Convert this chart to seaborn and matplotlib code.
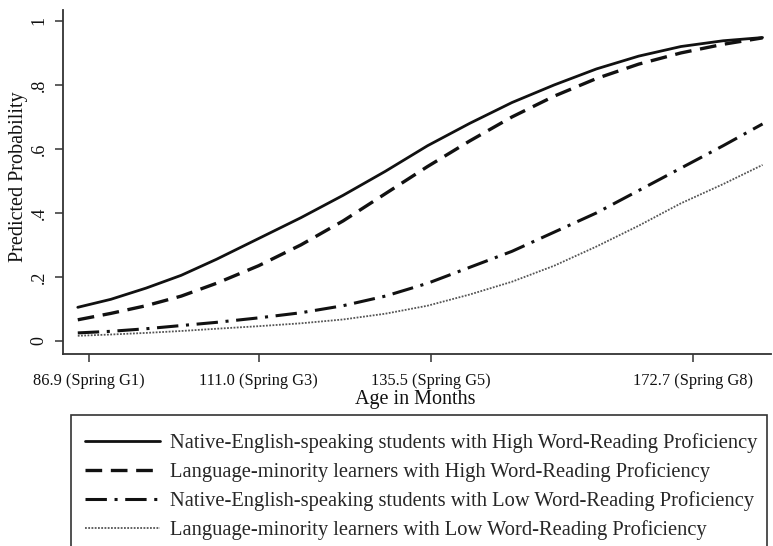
import matplotlib
matplotlib.use("Agg")
import matplotlib.pyplot as plt
from matplotlib.lines import Line2D
from matplotlib.patches import Rectangle
import numpy as np
import pandas as pd
import seaborn as sns

# Age in months at which the predicted probabilities are given
age = [85.3, 90, 95, 100, 105, 111, 117, 123, 129, 135, 141, 147, 153, 159, 165, 171, 177, 182.6]

native_high = [0.105, 0.13, 0.165, 0.205, 0.255, 0.32, 0.385, 0.455, 0.53, 0.61, 0.68,
               0.745, 0.80, 0.85, 0.89, 0.92, 0.938, 0.948]
minority_high = [0.066, 0.086, 0.11, 0.14, 0.18, 0.235, 0.30, 0.375, 0.46, 0.545, 0.625,
                 0.70, 0.765, 0.82, 0.865, 0.90, 0.927, 0.947]
native_low = [0.025, 0.03, 0.038, 0.048, 0.058, 0.072, 0.088, 0.11, 0.14, 0.18, 0.23,
              0.28, 0.34, 0.40, 0.47, 0.54, 0.61, 0.678]
minority_low = [0.016, 0.02, 0.025, 0.031, 0.038, 0.046, 0.055, 0.067, 0.085, 0.11, 0.145,
                0.185, 0.235, 0.295, 0.36, 0.43, 0.49, 0.55]

groups = [
    "Native-English-speaking students with High Word-Reading Proficiency",
    "Language-minority learners with High Word-Reading Proficiency",
    "Native-English-speaking students with Low Word-Reading Proficiency",
    "Language-minority learners with Low Word-Reading Proficiency",
]

x_ticks = [86.9, 111.0, 135.5, 172.7]
x_ticklabels = ["86.9 (Spring G1)", "111.0 (Spring G3)", "135.5 (Spring G5)", "172.7 (Spring G8)"]
y_ticks = [0, 0.2, 0.4, 0.6, 0.8, 1.0]
y_ticklabels = ["0", ".2", ".4", ".6", ".8", "1"]

sns.set_theme(style="white")
plt.rcParams["font.family"] = ["Liberation Serif", "DejaVu Serif"]

df = pd.concat([
    pd.DataFrame({"age": age, "prob": vals, "group": g})
    for g, vals in zip(groups, [native_high, minority_high, native_low, minority_low])
])

styles = {
    groups[0]: dict(color="#111111", lw=2.0, dashes=""),
    groups[1]: dict(color="#111111", lw=2.4, dashes=(5, 2.6)),
    groups[2]: dict(color="#111111", lw=2.2, dashes=(7, 2.5, 1, 2.5)),
    groups[3]: dict(color="#555555", lw=1.3, dashes=(1, 0.8)),
}

fig = plt.figure(figsize=(7.73, 5.46), dpi=100)
ax = fig.add_axes([0.0815, 0.3516, 0.9159, 0.630])

for g in groups:
    st = styles[g]
    sub = df[df["group"] == g]
    line_ax = sns.lineplot(data=sub, x="age", y="prob", ax=ax, color=st["color"],
                           linewidth=st["lw"], legend=False)
    ln = line_ax.get_lines()[-1]
    if st["dashes"]:
        ln.set_dashes(st["dashes"])

ax.set_xlim(83.2, 183.8)
ax.set_ylim(-0.041, 1.034)
ax.set_xticks(x_ticks)
ax.set_xticklabels(x_ticklabels, fontsize=11.8)
ax.set_yticks(y_ticks)
ax.set_yticklabels(y_ticklabels, fontsize=13, rotation=90, va="center")
ax.tick_params(axis="both", which="major", direction="out", length=6, width=1.1,
               color="#333333", labelcolor="#111111", bottom=True, left=True)
ax.tick_params(axis="x", pad=8)
ax.tick_params(axis="y", pad=5)

for side in ["top", "right"]:
    ax.spines[side].set_visible(False)
for side in ["left", "bottom"]:
    ax.spines[side].set_color("#333333")
    ax.spines[side].set_linewidth(1.3)

ax.set_xlabel("Age in Months", fontsize=14.5, color="#111111")
ax.set_ylabel("Predicted Probability", fontsize=14.5, color="#111111")
ax.xaxis.set_label_coords(0.497, -0.104)
ax.yaxis.set_label_coords(-0.05, 0.515)

# Legend box below the chart, running off the bottom edge
fig.patches.append(Rectangle((71 / 773, -0.02), (767 - 71) / 773, 1 - 415 / 546 + 0.02,
                             transform=fig.transFigure, fill=False,
                             edgecolor="#333333", linewidth=1.2, clip_on=False))
handles = []
for g in groups:
    st = styles[g]
    h = Line2D([0], [0], color=st["color"], linewidth=st["lw"])
    if st["dashes"]:
        h.set_dashes(st["dashes"])
    handles.append(h)
fig.legend(handles, groups, loc="upper left", bbox_to_anchor=(85 / 773, 1 - 433 / 546),
           frameon=False, fontsize=14.8, handlelength=3.64, handletextpad=0.49,
           labelspacing=0.45, borderpad=0.0, borderaxespad=0.0)

fig.savefig("out.png", dpi=100)
